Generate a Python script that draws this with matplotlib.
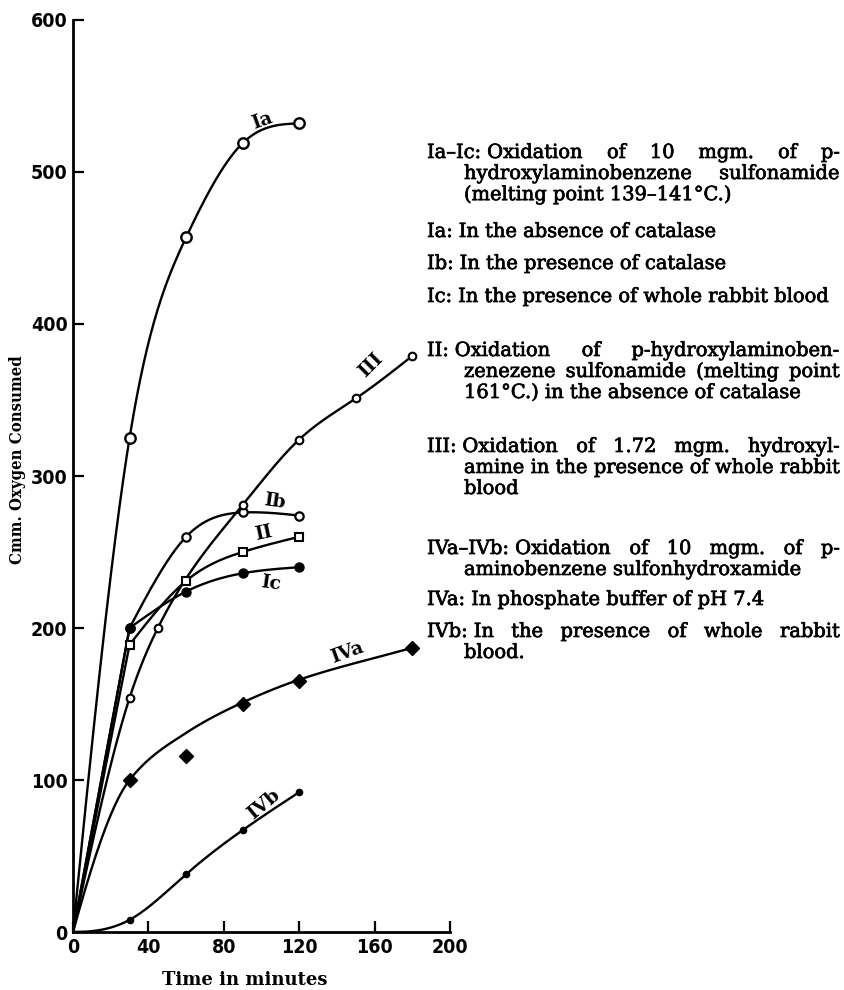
import numpy as np
import matplotlib
matplotlib.use("Agg")
import matplotlib.pyplot as plt
import matplotlib.patheffects as pe
from matplotlib import font_manager

# minutes / cmm oxygen (plotted points)
ia_t = [30, 60, 90, 120]
ia_y = [325, 457, 519, 532]
ib_t = [30, 60, 90, 120]
ib_y = [200, 260, 276, 274]
ic_t = [30, 60, 90, 120]
ic_y = [200, 224, 236, 240]
ii_t = [30, 60, 90, 120]
ii_y = [189, 231, 250, 260]
iii_t = [30, 45, 90, 120, 150, 180]
iii_y = [154, 200, 281, 324, 351, 379]
iva_t = [30, 60, 90, 120, 180]
iva_y = [100, 116, 150, 165, 187]
ivb_t = [30, 60, 90, 120]
ivb_y = [8, 38, 67, 92]

# the hand-drawn IVa curve runs above the 60 min point
iva_fit_t = [0, 30, 60, 90, 120, 180]
iva_fit_y = [0, 100, 131, 151, 166, 187]

x_ticks = [0, 40, 80, 120, 160, 200]
y_ticks = [0, 100, 200, 300, 400, 500, 600]

# key to the curves: (label, lines, y of first line)
legend_blocks = [
    ("Ia–Ic:", ["Oxidation of 10 mgm. of p-",
                "hydroxylaminobenzene sulfonamide",
                "(melting point 139–141°C.)"], 153),
    ("Ia:", ["In the absence of catalase"], 232),
    ("Ib:", ["In the presence of catalase"], 264),
    ("Ic:", ["In the presence of whole rabbit blood"], 297),
    ("II:", ["Oxidation of p-hydroxylaminoben-",
             "zenezene sulfonamide (melting point",
             "161°C.) in the absence of catalase"], 351),
    ("III:", ["Oxidation of 1.72 mgm. hydroxyl-",
              "amine in the presence of whole rabbit",
              "blood"], 447),
    ("IVa–IVb:", ["Oxidation of 10 mgm. of p-",
                  "aminobenzene sulfonhydroxamide"], 549),
    ("IVa:", ["In phosphate buffer of pH 7.4"], 600),
    ("IVb:", ["In the presence of whole rabbit",
              "blood."], 632),
]


def spline(x, y, xs, d0=None):
    # cubic spline, natural ends unless a start slope is given
    x = np.asarray(x, float)
    y = np.asarray(y, float)
    n = len(x)
    h = np.diff(x)
    A = np.zeros((n, n))
    b = np.zeros(n)
    if d0 is None:
        A[0, 0] = 1
    else:
        A[0, 0] = 2 * h[0]
        A[0, 1] = h[0]
        b[0] = 6 * ((y[1] - y[0]) / h[0] - d0)
    A[-1, -1] = 1
    for i in range(1, n - 1):
        A[i, i - 1] = h[i - 1]
        A[i, i] = 2 * (h[i - 1] + h[i])
        A[i, i + 1] = h[i]
        b[i] = 6 * ((y[i + 1] - y[i]) / h[i] - (y[i] - y[i - 1]) / h[i - 1])
    M = np.linalg.solve(A, b)
    i = np.clip(np.searchsorted(x, xs) - 1, 0, n - 2)
    hi = h[i]
    t0 = xs - x[i]
    t1 = x[i + 1] - xs
    return (M[i] * t1**3 / (6 * hi) + M[i + 1] * t0**3 / (6 * hi)
            + (y[i] / hi - M[i] * hi / 6) * t1
            + (y[i + 1] / hi - M[i + 1] * hi / 6) * t0)


def pchip(x, y, xs):
    x = np.asarray(x, float)
    y = np.asarray(y, float)
    h = np.diff(x)
    d = np.diff(y) / h
    n = len(x)
    m = np.zeros(n)
    for k in range(1, n - 1):
        if d[k - 1] * d[k] > 0:
            w1 = 2 * h[k] + h[k - 1]
            w2 = h[k] + 2 * h[k - 1]
            m[k] = (w1 + w2) / (w1 / d[k - 1] + w2 / d[k])
    s = ((2 * h[0] + h[1]) * d[0] - h[0] * d[1]) / (h[0] + h[1])
    m[0] = s if np.sign(s) == np.sign(d[0]) else 0.0
    m[-1] = d[-1]
    i = np.clip(np.searchsorted(x, xs) - 1, 0, n - 2)
    t = (xs - x[i]) / h[i]
    return ((2 * t**3 - 3 * t**2 + 1) * y[i] + (t**3 - 2 * t**2 + t) * h[i] * m[i]
            + (-2 * t**3 + 3 * t**2) * y[i + 1] + (t**3 - t**2) * h[i] * m[i + 1])


def draw(ax, t, y, f=spline, **kw):
    xs = np.linspace(t[0], t[-1], 400)
    ax.plot(xs, f(t, y, xs, **kw), color="black", lw=1.7, zorder=2,
            solid_capstyle="round")


def condensed(family):
    # use the condensed cut if it is installed
    fp = font_manager.FontProperties(family=family, stretch="condensed")
    path = font_manager.findfont(fp, fallback_to_default=False)
    return "Condensed" in path


fig = plt.figure(figsize=(8.44, 9.9), dpi=100)
W, H = 844, 990
ax = fig.add_axes([73 / W, 58 / H, (450 - 73) / W, (932 - 20) / H])

draw(ax, [0] + ia_t, [0] + ia_y)
# Ib, Ic and II rise in a straight line to the 30 min point, then bend
for t, y in [(ib_t, ib_y), (ic_t, ic_y), (ii_t, ii_y)]:
    ax.plot([0, t[0]], [0, y[0]], color="black", lw=1.7, zorder=2)
    draw(ax, t, y)
draw(ax, [0] + iii_t, [0] + iii_y)
draw(ax, iva_fit_t, iva_fit_y, f=pchip)
draw(ax, [0] + ivb_t, [0] + ivb_y, d0=0.0)

ax.plot(ia_t, ia_y, "o", ms=7.5, mfc="white", mec="black", mew=1.7, zorder=3)
ax.plot(ib_t, ib_y, "o", ms=6, mfc="white", mec="black", mew=1.6, zorder=3)
ax.plot(ii_t, ii_y, "s", ms=5.5, mfc="white", mec="black", mew=1.5, zorder=3)
ax.plot(iii_t, iii_y, "o", ms=5.5, mfc="white", mec="black", mew=1.5, zorder=3)
ax.plot(ic_t, ic_y, "o", ms=6.5, color="black", zorder=4)
ax.plot(iva_t, iva_y, "D", ms=7, color="black", zorder=3)
ax.plot(ivb_t, ivb_y, "o", ms=4.5, color="black", zorder=3)

lab = dict(family="DejaVu Serif", fontweight="bold", fontsize=13.5,
           ha="center", va="center")
ax.text(100.5, 534, "Ia", rotation=20, **lab)
ax.text(107, 283, "Ib", rotation=-8, **lab)
ax.text(101, 262, "II", rotation=12, **lab)
ax.text(105, 229, "Ic", rotation=-8, **lab)
ax.text(158, 373, "III", rotation=45, **lab)
ax.text(145.5, 184, "IVa", rotation=20, **lab)
ax.text(101, 84, "IVb", rotation=40, **lab)

ax.set_xlim(0, 200)
ax.set_ylim(0, 600)
ax.set_xticks(x_ticks)
ax.set_yticks(y_ticks)
ax.spines["top"].set_visible(False)
ax.spines["right"].set_visible(False)
ax.spines["left"].set_linewidth(2)
ax.spines["bottom"].set_linewidth(2)
ax.tick_params(direction="in", length=8, width=1.6, pad=4)

if condensed("DejaVu Sans"):
    tick_font = dict(family="DejaVu Sans", stretch="condensed", size=14)
else:
    tick_font = dict(family="DejaVu Sans", size=12)
for lbl in ax.get_xticklabels() + ax.get_yticklabels():
    lbl.set_fontproperties(font_manager.FontProperties(weight="bold", **tick_font))

if condensed("DejaVu Serif"):
    ylab_font = dict(family="DejaVu Serif", fontstretch="condensed", fontsize=12)
else:
    ylab_font = dict(family="DejaVu Serif", fontsize=10)
fig.text(18 / W, 1 - 460 / H, "Cmm. Oxygen Consumed", rotation=90,
         fontweight="bold", ha="center", va="center", **ylab_font)
fig.text(245 / W, 1 - 980 / H, "Time in minutes", family="DejaVu Serif",
         fontweight="bold", fontsize=13, ha="center", va="center")

# key text, justified like the printed page
fig.canvas.draw()
renderer = fig.canvas.get_renderer()
x_label, x_indent, x_right = 427, 464, 840
line_gap = 21
txt = dict(family="DejaVu Serif", fontsize=14, va="center", ha="left",
           path_effects=[pe.withStroke(linewidth=0.5, foreground="black")])
space = 6


def put_line(s, x0, y, justify):
    words = s.split(" ")
    if not justify or len(words) == 1:
        fig.text(x0 / W, 1 - y / H, s, **txt)
        return
    items = [fig.text(0, 1 - y / H, w, **txt) for w in words]
    widths = [it.get_window_extent(renderer).width for it in items]
    gap = (x_right - x0 - sum(widths)) / (len(words) - 1)
    x = x0
    for it, w in zip(items, widths):
        it.set_x(x / W)
        x += w + gap


for label, lines, y0 in legend_blocks:
    head = fig.text(x_label / W, 1 - y0 / H, label, **txt)
    body_x = x_label + head.get_window_extent(renderer).width + space
    for k, s in enumerate(lines):
        x0 = body_x if k == 0 else x_indent
        put_line(s, x0, y0 + k * line_gap, k < len(lines) - 1)

fig.savefig("out.png", dpi=100)
